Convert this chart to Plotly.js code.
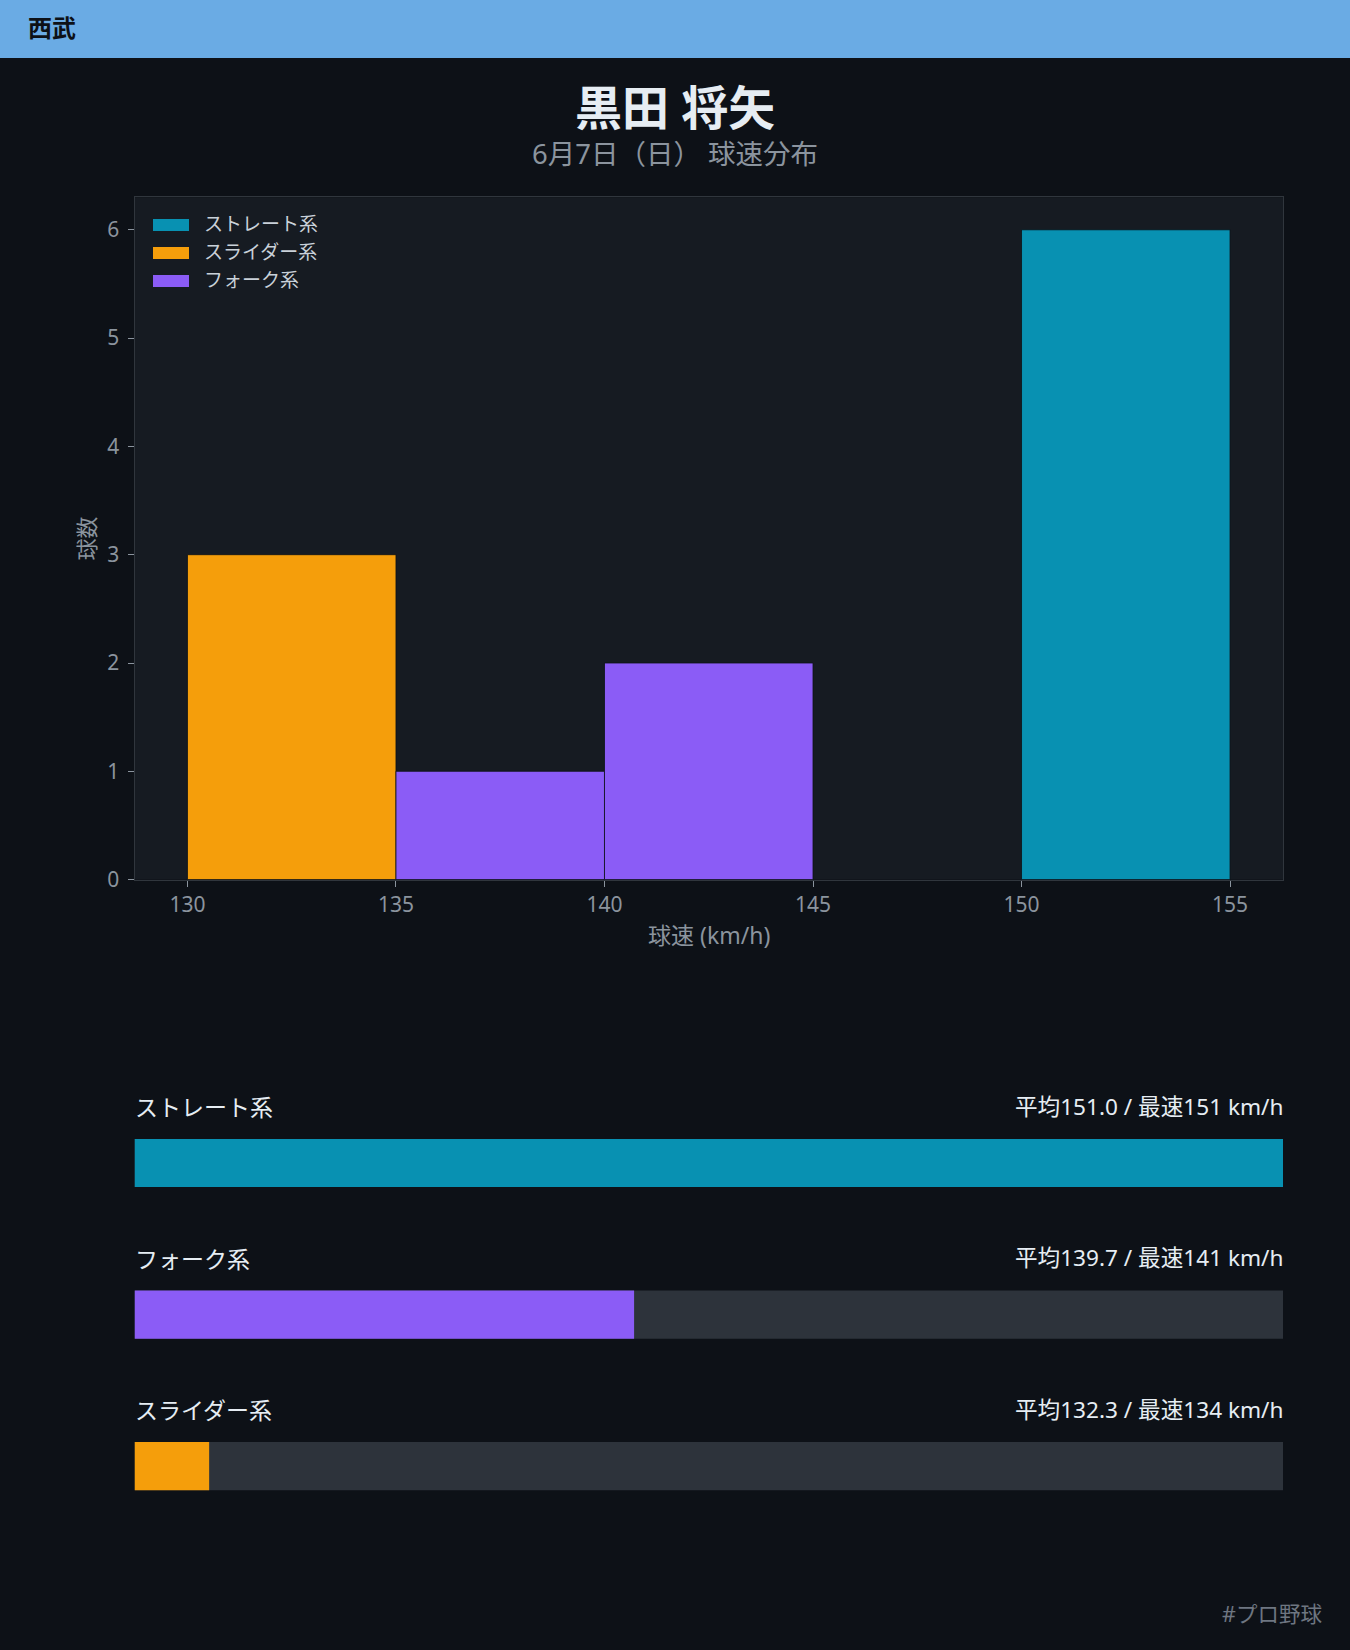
<!DOCTYPE html>
<html>
<head>
<meta charset="utf-8">
<script src="https://cdn.plot.ly/plotly-3.0.1.min.js"></script>
<style>
html,body{margin:0;padding:0;background:#0d1117;}
#chart{width:1350px;height:1650px;}
</style>
</head>
<body>
<div id="chart"></div>
<script>
// ---- data ----
const teamName = "西武";
const pitcherName = "黒田 将矢";
const subtitle = "6月7日（日） 球速分布";
const pitchTypes = ["ストレート系", "スライダー系", "フォーク系"];
const typeColors = ["#0891b2", "#f59e0b", "#8b5cf6"];
// histogram bins (start of 5 km/h bin) and counts per type
const straightBins = [150];
const straightCounts = [6];
const sliderBins = [130];
const sliderCounts = [3];
const forkBins = [135, 140];
const forkCounts = [1, 2];
const binWidth = 5;
// summary rows (top to bottom)
const summaryTypes = ["ストレート系", "フォーク系", "スライダー系"];
const summaryColors = ["#0891b2", "#8b5cf6", "#f59e0b"];
const avgSpeeds = [151.0, 139.7, 132.3];
const maxSpeeds = [151, 141, 134];
const speedScale = [131, 151];
const xTicks = [130, 135, 140, 145, 150, 155];
const hashtag = "#プロ野球";

// ---- layout helpers ----
const W = 1350, H = 1650;
const px = v => v / W;
const py = v => 1 - v / H;
const FONT = '"Noto Sans", "Noto Sans CJK JP", sans-serif';
const plotL = 134.5, plotR = 1283, plotT = 197.3, plotB = 879.6;
const rowTop = 1163, rowGap = 151.6;

const centers = bins => bins.map(b => b + binWidth / 2);
const histSeries = [
  {bins: straightBins, counts: straightCounts},
  {bins: sliderBins, counts: sliderCounts},
  {bins: forkBins, counts: forkCounts}
];

const traces = [];
histSeries.forEach((s, i) => {
  traces.push({
    type: 'bar', x: centers(s.bins), y: s.counts, width: s.bins.map(() => binWidth),
    name: pitchTypes[i], xaxis: 'x', yaxis: 'y',
    marker: {color: typeColors[i], line: {color: '#0d1117', width: 0.8}},
    hoverinfo: 'skip', showlegend: false
  });
});
// summary tracks
traces.push({
  type: 'bar', orientation: 'h', y: summaryTypes,
  x: summaryTypes.map(() => speedScale[1] - speedScale[0]), base: speedScale[0],
  width: 0.318, xaxis: 'x2', yaxis: 'y2',
  marker: {color: '#2d333b', line: {width: 0}}, hoverinfo: 'skip', showlegend: false
});
traces.push({
  type: 'bar', orientation: 'h', y: summaryTypes,
  x: avgSpeeds.map(v => v - speedScale[0]), base: speedScale[0],
  width: 0.318, xaxis: 'x2', yaxis: 'y2',
  marker: {color: summaryColors, line: {width: 0}}, hoverinfo: 'skip', showlegend: false
});

const annotations = [
  {text: teamName, xref: 'paper', yref: 'paper', x: px(26), y: py(28), xanchor: 'left', yanchor: 'middle',
   showarrow: false, font: {family: FONT, size: 24, color: '#0d1117', weight: 'bold'}},
  {text: '<b><span style="font-size:47px;color:#e6edf3">' + pitcherName + '</span></b><br>' +
         '<span style="font-size:27.5px;color:#8b949e">' + subtitle + '</span>',
   xref: 'paper', yref: 'paper', x: 0.5, y: py(123), xanchor: 'center', yanchor: 'middle', align: 'center',
   showarrow: false, font: {family: FONT, size: 30, color: '#8b949e'}},
  {text: '球速 (km/h)', xref: 'paper', yref: 'paper', x: px((plotL + plotR) / 2), y: py(935), xanchor: 'center', yanchor: 'middle',
   showarrow: false, font: {family: FONT, size: 23, color: '#8b949e'}},
  {text: '球数', xref: 'paper', yref: 'paper', x: px(86), y: py((plotT + plotB) / 2), xanchor: 'center', yanchor: 'middle',
   textangle: -90, showarrow: false, font: {family: FONT, size: 22, color: '#8b949e'}},
  {text: hashtag, xref: 'paper', yref: 'paper', x: px(1324), y: py(1613), xanchor: 'right', yanchor: 'middle',
   showarrow: false, font: {family: FONT, size: 21.5, color: '#6e7681'}}
];
const shapes = [
  {type: 'rect', xref: 'paper', yref: 'paper', x0: 0, x1: 1, y0: py(58), y1: 1,
   fillcolor: '#6aabe4', line: {width: 0}, layer: 'below'},
  {type: 'rect', xref: 'x domain', yref: 'y domain', x0: 0, x1: 1, y0: 0, y1: 1,
   fillcolor: '#161b22', line: {width: 0}, layer: 'below'}
];
// custom legend
const legendY = [225, 253, 281];
pitchTypes.forEach((t, i) => {
  shapes.push({type: 'rect', xref: 'paper', yref: 'paper', x0: px(153), x1: px(189),
    y0: py(legendY[i] + 6), y1: py(legendY[i] - 6), fillcolor: typeColors[i], line: {width: 0}});
  annotations.push({text: t, xref: 'paper', yref: 'paper', x: px(202), y: py(legendY[i] - 1),
    xanchor: 'left', yanchor: 'middle', showarrow: false, font: {family: FONT, size: 19, color: '#c9d1d9'}});
});
// summary labels
summaryTypes.forEach((t, i) => {
  annotations.push({text: t, xref: 'paper', yref: 'y2', x: px(plotL - 2), y: t, yshift: 56,
    xanchor: 'left', yanchor: 'middle', showarrow: false, font: {family: FONT, size: 23, color: '#e6edf3'}});
  annotations.push({text: '平均' + avgSpeeds[i].toFixed(1) + ' / 最速' + maxSpeeds[i] + ' km/h',
    xref: 'paper', yref: 'y2', x: px(plotR + 2), y: t, yshift: 57,
    xanchor: 'right', yanchor: 'middle', showarrow: false, font: {family: FONT, size: 22.6, color: '#e6edf3'}});
});

const layout = {
  width: W, height: H,
  margin: {l: 0, r: 0, t: 0, b: 0},
  paper_bgcolor: '#0d1117', plot_bgcolor: '#0d1117',
  font: {family: FONT, color: '#8b949e'},
  barmode: 'overlay',
  showlegend: false,
  xaxis: {
    domain: [px(plotL), px(plotR)], anchor: 'y',
    range: [128.73, 156.27], tickvals: xTicks, ticks: 'outside', ticklen: 6, tickcolor: '#8b949e',
    tickfont: {size: 21, color: '#8b949e'}, showgrid: false, zeroline: false,
    showline: true, mirror: true, linecolor: '#30363d', linewidth: 1
  },
  yaxis: {
    domain: [py(plotB), py(plotT)], anchor: 'x',
    range: [0, 6.3], dtick: 1, ticks: 'outside', ticklen: 6, tickcolor: '#8b949e',
    tickfont: {size: 21, color: '#8b949e'}, showgrid: false, zeroline: false, ticklabelstandoff: 4,
    showline: true, mirror: true, linecolor: '#30363d', linewidth: 1
  },
  xaxis2: {
    domain: [px(plotL), px(plotR)], anchor: 'y2', range: speedScale,
    visible: false, showgrid: false, zeroline: false, fixedrange: true
  },
  yaxis2: {
    domain: [py(rowTop + 2.5 * rowGap), py(rowTop - 0.5 * rowGap)], anchor: 'x2',
    type: 'category', categoryorder: 'array', categoryarray: summaryTypes,
    range: [2.5, -0.5], visible: false, showgrid: false, zeroline: false, fixedrange: true
  },
  annotations: annotations,
  shapes: shapes
};

Plotly.newPlot('chart', traces, layout, {displayModeBar: false, staticPlot: true});
</script>
</body>
</html>
